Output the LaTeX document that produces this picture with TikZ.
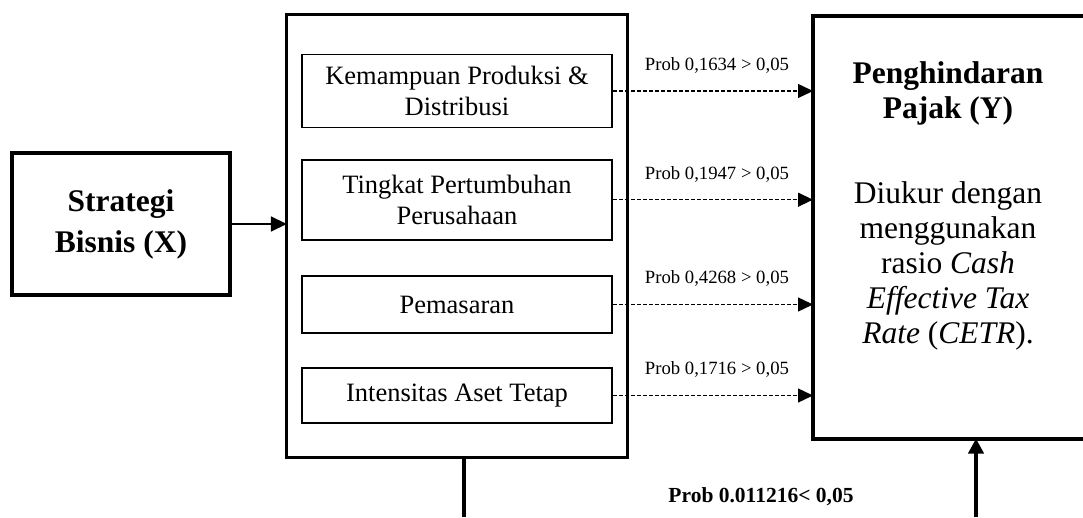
\documentclass[tikz,border=0pt]{standalone}
\usepackage{fontspec}
\setmainfont{Liberation Serif}
\usepackage{tikz}
\usetikzlibrary{positioning}
\usetikzlibrary{arrows.meta}

\tikzset{
	outerbox/.style={rectangle, draw, line width=3.5pt, inner sep=0pt, outer sep=0pt, align=center},
	innerbox/.style={rectangle, draw, line width=1.7pt, inner sep=0pt, minimum width=310pt, align=center, font=\fontsize{26.5}{31}\selectfont},
	problabel/.style={inner sep=0pt, font=\fontsize{18.7}{22}\selectfont},
	dasharrow/.style={line width=1.3pt, dash pattern=on 4pt off 2pt, -{Triangle[length=15pt,width=14pt]}},
	solidarrow/.style={line width=1.7pt, -{Triangle[length=16pt,width=15pt]}},
	thickarrow/.style={line width=4pt, -{Triangle[length=15pt,width=15pt]}}
}

\begin{document}
\begin{tikzpicture}[x=1pt,y=1pt]
				\useasboundingbox (0,0) rectangle (1083,517);
				
				\node[outerbox, line width=4pt, minimum width=218pt, minimum height=142pt, font=\fontsize{31.5}{41}\selectfont\bfseries] (X) at (121,293) {Strategi\\Bisnis (X)};
				\node[outerbox, line width=3.3pt, minimum width=341pt, minimum height=443pt] (M) at (457.3,281) {};
				
				\node[innerbox, minimum height=73pt] (K) at (457,426) {Kemampuan Produksi \&\\Distribusi};
				\node[innerbox, minimum height=80pt] (T) at (457,317.3) {Tingkat Pertumbuhan\\Perusahaan};
				\node[innerbox, minimum height=56.6pt] (P) at (457,212.5) {Pemasaran};
				\node[innerbox, minimum height=55.6pt] (A) at (457,121.5) {Intensitas Aset Tetap};
				
				\node[rectangle, inner sep=0pt, outer sep=0pt, minimum width=270pt, minimum height=422pt] (Y) at (948,289.5) {};
				\draw[line width=4pt] (Y.north east) -- (Y.north west) -- (Y.south west) -- (Y.south east);
				\node[below=45pt of Y.north, align=center, inner sep=0pt, font=\fontsize{31.5}{35}\selectfont] (Ytext) {\textbf{Penghindaran}\\\textbf{Pajak (Y)}\\[50pt]Diukur dengan\\menggunakan\\rasio \textit{Cash}\\\textit{Effective Tax}\\\textit{Rate} (\textit{CETR}).};
				
				\coordinate (mb) at (464,0);
				\coordinate (yb) at (976,0);
				
				\draw[solidarrow] (X.east) -- (X.east -| M.west);
				\draw[dasharrow] (K.east) -- (K.east -| Y.west) node[midway, above=17pt, xshift=4pt, problabel] (kl) {Prob 0,1634 > 0,05};
				\draw[dasharrow] (T.east) -- (T.east -| Y.west) node[midway, above=17pt, xshift=4pt, problabel] (tl) {Prob 0,1947 > 0,05};
				\draw[dasharrow] (P.east) -- (P.east -| Y.west) node[midway, above=17pt, xshift=4pt, problabel] (pl) {Prob 0,4268 > 0,05};
				\draw[dasharrow] (A.east) -- (A.east -| Y.west) node[midway, above=17pt, xshift=4pt, problabel] (al) {Prob 0,1716 > 0,05};
				
				\draw[line width=4pt] (mb |- M.south) -- (mb);
				\draw[thickarrow] (yb) -- (yb |- Y.south);
				\node[problabel, font=\fontsize{21.5}{25}\selectfont\bfseries] (bl) at (761,20) {Prob 0.011216< 0,05};
			\end{tikzpicture}
\end{document}
